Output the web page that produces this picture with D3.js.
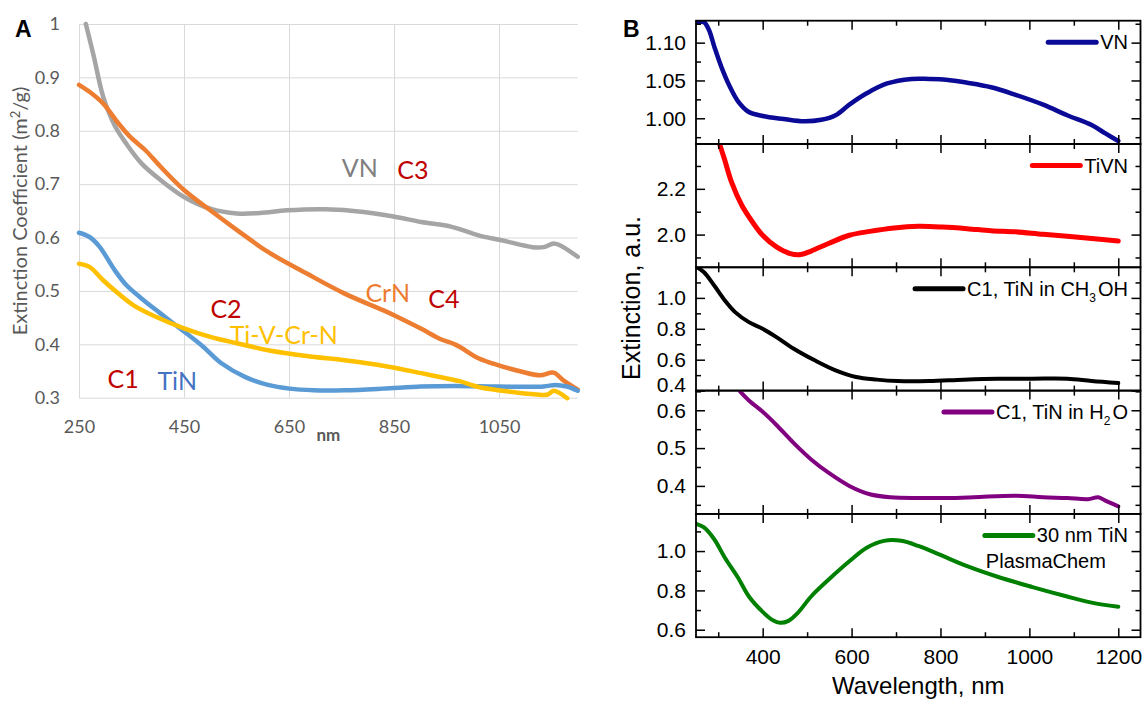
<!DOCTYPE html>
<html><head><meta charset="utf-8">
<script src="https://cdn.jsdelivr.net/npm/d3@7"></script>
<style>
html,body{margin:0;padding:0;background:#fff;}
svg{display:block;}
</style></head><body>
<svg id="fig" width="1143" height="701"></svg>
<script>
// ---------- Panel A: extinction coefficient (m^2/g) vs wavelength ----------
const aXTicks = [250, 450, 650, 850, 1050];
const aYTicks = [0.3, 0.4, 0.5, 0.6, 0.7, 0.8, 0.9, 1];

const aVN = [[263,1.0],[278,0.94],[296,0.864],[318,0.81],[340,0.776],[369,0.739],[405,0.708],[450,0.676],[500,0.654],[551,0.645],[595,0.646],[646,0.651],[719,0.653],[792,0.648],[851,0.639],[902,0.629],[960,0.62],[1011,0.604],[1055,0.595],[1114,0.582],[1135,0.582],[1154,0.589],[1165,0.586],[1200,0.564]];
const aCrN = [[250,0.886],[270,0.873],[296,0.851],[325,0.814],[347,0.789],[376,0.764],[405,0.733],[450,0.689],[500,0.651],[551,0.614],[610,0.573],[683,0.533],[756,0.495],[829,0.464],[851,0.454],[902,0.429],[938,0.41],[968,0.399],[1011,0.374],[1048,0.361],[1092,0.349],[1128,0.342],[1154,0.347],[1172,0.333],[1200,0.315]];
const aTiN = [[250,0.609],[270,0.601],[289,0.583],[318,0.539],[340,0.511],[369,0.486],[405,0.458],[450,0.424],[486,0.396],[522,0.364],[566,0.339],[610,0.324],[651,0.317],[697,0.314],[756,0.314],[829,0.317],[902,0.321],[968,0.322],[1048,0.321],[1135,0.321],[1157,0.324],[1179,0.321],[1200,0.313]];
const aTiVCrN = [[250,0.551],[270,0.545],[296,0.52],[325,0.495],[354,0.473],[391,0.454],[450,0.43],[500,0.414],[551,0.402],[610,0.389],[683,0.378],[756,0.37],[829,0.36],[902,0.346],[960,0.334],[975,0.331],[1011,0.32],[1048,0.314],[1121,0.306],[1143,0.306],[1154,0.313],[1180,0.299]];

// in-plot annotations of panel A: [text, wavelength, value, colour]
const aNotes = [
  ["VN", 785, 0.7325, "#7f7f7f"], ["C3", 886, 0.729, "#c00000"],
  ["CrN", 838, 0.498, "#ed7d31"], ["C4", 945, 0.486, "#c00000"],
  ["C2", 530, 0.468, "#c00000"], ["Ti-V-Cr-N", 640, 0.4196, "#ffc000"],
  ["C1", 334, 0.336, "#c00000"], ["TiN", 437, 0.333, "#4472c4"]
];

// ---------- Panel B: extinction spectra (a.u.) ----------
const bXMajor = [400, 600, 800, 1000, 1200];
const bXMinor = [300, 500, 700, 900, 1100];

const bVN = [[252,1.127],[268,1.127],[279,1.117],[291,1.095],[307,1.068],[326,1.042],[345,1.022],[367,1.009],[400,1.003],[447,0.999],[493,0.996],[532,0.998],[564,1.004],[595,1.018],[634,1.033],[680,1.046],[735,1.052],[774,1.052],[813,1.051],[860,1.047],[914,1.041],[969,1.031],[1031,1.018],[1085,1.004],[1140,0.991],[1171,0.98],[1200,0.97]];
const bTiVN = [[303,2.396],[314,2.33],[330,2.229],[353,2.128],[377,2.055],[400,1.997],[431,1.946],[462,1.917],[486,1.913],[509,1.928],[548,1.961],[595,1.997],[641,2.014],[696,2.029],[750,2.036],[805,2.033],[860,2.026],[914,2.017],[969,2.012],[1031,2.001],[1085,1.993],[1140,1.983],[1200,1.972]];
const bTiNMeOH = [[252,1.198],[268,1.166],[291,1.08],[315,0.983],[338,0.908],[369,0.843],[400,0.8],[431,0.746],[470,0.671],[517,0.596],[564,0.531],[610,0.488],[657,0.471],[704,0.462],[774,0.462],[852,0.471],[930,0.477],[1007,0.477],[1085,0.477],[1140,0.462],[1200,0.449]];
const bTiNWater = [[349,0.65],[369,0.626],[400,0.596],[431,0.561],[470,0.513],[509,0.47],[548,0.435],[595,0.4],[641,0.378],[688,0.37],[750,0.368],[813,0.368],[875,0.37],[969,0.374],[1031,0.37],[1085,0.368],[1132,0.365],[1155,0.37],[1171,0.361],[1200,0.346]];
const bTiNPlasma = [[252,1.137],[268,1.12],[291,1.06],[315,0.966],[345,0.863],[369,0.769],[400,0.691],[423,0.648],[439,0.635],[458,0.645],[478,0.683],[509,0.769],[548,0.854],[595,0.948],[634,1.017],[673,1.052],[712,1.052],[750,1.026],[797,0.983],[860,0.923],[930,0.868],[1007,0.817],[1085,0.769],[1140,0.738],[1200,0.717]];

const bVNTicks = [1.00, 1.05, 1.10],  bVNMinor = [0.975, 1.025, 1.075, 1.125];
const bTiVNTicks = [2.0, 2.2],        bTiVNMinor = [1.9, 2.1, 2.3];
const bMeOHTicks = [0.4, 0.6, 0.8, 1.0], bMeOHMinor = [0.5, 0.7, 0.9, 1.1];
const bWaterTicks = [0.4, 0.5, 0.6],  bWaterMinor = [0.35, 0.45, 0.55, 0.65];
const bPlasmaTicks = [0.6, 0.8, 1.0], bPlasmaMinor = [0.7, 0.9, 1.1];

const svg = d3.select("#fig");
const fontA = "Lato, 'Open Sans', sans-serif";
const fontB = "'Liberation Sans', Arial, sans-serif";

// ================= Panel A =================
const xA = d3.scaleLinear([250, 1200], [79, 577.75]);
const yA = d3.scaleLinear([0.3, 1], [397.7, 24]);
const gA = svg.append("g");

const yAxA = gA.append("g").attr("transform", `translate(${xA(250)},0)`)
  .call(d3.axisLeft(yA).tickValues(aYTicks).tickSize(-(xA(1200) - xA(250)))
        .tickPadding(19).tickFormat(d3.format("")));
const xAxA = gA.append("g").attr("transform", `translate(0,${yA(0.3)})`)
  .call(d3.axisBottom(xA).tickValues(aXTicks).tickSize(-(yA(0.3) - yA(1)))
        .tickPadding(23).tickFormat(d3.format("")));
[yAxA, xAxA].forEach(ax => {
  ax.select(".domain").remove();
  ax.selectAll(".tick line").attr("stroke", "#d9d9d9").attr("stroke-width", 1);
  ax.selectAll(".tick text").attr("fill", "#595959")
    .style("font-family", fontA).style("font-size", "18px");
});

const lineA = d3.line().x(d => xA(d[0])).y(d => yA(d[1])).curve(d3.curveCatmullRom.alpha(0.5));
[[aVN, "#a5a5a5"], [aCrN, "#ed7d31"], [aTiN, "#5b9bd5"], [aTiVCrN, "#ffc000"]].forEach(([d, c]) => {
  gA.append("path").datum(d).attr("d", lineA).attr("fill", "none")
    .attr("stroke", c).attr("stroke-width", 4.5).attr("stroke-linecap", "round").attr("stroke-linejoin", "round");
});

gA.selectAll("text.note").data(aNotes).join("text").attr("class", "note")
  .attr("x", d => xA(d[1])).attr("y", d => yA(d[2]))
  .attr("text-anchor", "middle").attr("dominant-baseline", "central")
  .attr("fill", d => d[3]).style("font-family", fontA).style("font-size", "25px")
  .text(d => d[0]);

const titleA = gA.append("text").attr("transform", `translate(26.5,211) rotate(-90)`)
  .attr("text-anchor", "middle").attr("fill", "#595959")
  .style("font-family", fontA).style("font-size", "20px");
titleA.append("tspan").text("Extinction Coefficient (m");
titleA.append("tspan").attr("dy", -7).style("font-size", "13px").text("2");
titleA.append("tspan").attr("dy", 7).text("/g)");

gA.append("text").attr("x", xA(725)).attr("y", 441).attr("text-anchor", "middle")
  .attr("fill", "#595959").style("font-family", fontA).style("font-size", "17px")
  .style("font-weight", "bold").text("nm");

svg.append("text").attr("x", 15).attr("y", 36.7).style("font-family", fontB)
  .style("font-size", "23px").style("font-weight", "bold").text("A");

// ================= Panel B =================
const xB = d3.scaleLinear([250, 1250], [696, 1140.5]);
const L = xB(250), R = xB(1250);
const top0 = 20.7, ph = 123.3;

const panels = [
  { data: bVN, color: "#0a0a96", width: 4.5, dom: [0.966, 1.129], major: bVNTicks, minor: bVNMinor, fmt: ".2f", legend: ["VN"] },
  { data: bTiVN, color: "#ff0000", width: 5, dom: [1.857, 2.396], major: bTiVNTicks, minor: bTiVNMinor, fmt: ".1f", legend: ["TiVN"] },
  { data: bTiNMeOH, color: "#000000", width: 4, dom: [0.4, 1.198], major: bMeOHTicks, minor: bMeOHMinor, fmt: ".1f", legend: ["C1, TiN in CH", "3", "OH"] },
  { data: bTiNWater, color: "#800080", width: 4, dom: [0.326, 0.652], major: bWaterTicks, minor: bWaterMinor, fmt: ".1f", legend: ["C1, TiN in H", "2", "O"] },
  { data: bTiNPlasma, color: "#008000", width: 4, dom: [0.562, 1.189], major: bPlasmaTicks, minor: bPlasmaMinor, fmt: ".1f", legend: ["30 nm TiN"], extra: "PlasmaChem" }
];

const defs = svg.append("defs");
panels.forEach((p, i) => {
  const t = top0 + i * ph, b = t + ph;
  const y = d3.scaleLinear(p.dom, [b, t]);
  const g = svg.append("g");

  defs.append("clipPath").attr("id", "clipB" + i)
    .append("rect").attr("x", L).attr("y", t).attr("width", R - L).attr("height", ph);

  const line = d3.line().x(d => xB(d[0])).y(d => y(d[1])).curve(d3.curveCatmullRom.alpha(0.5));
  g.append("path").datum(p.data).attr("d", line).attr("fill", "none")
    .attr("clip-path", `url(#clipB${i})`)
    .attr("stroke", p.color).attr("stroke-width", p.width).attr("stroke-linecap", "round").attr("stroke-linejoin", "round");

  const minorIn = p.minor.filter(v => v > p.dom[0] && v < p.dom[1]);
  const axes = [];
  const left = g.append("g").attr("transform", `translate(${L},0)`)
    .call(d3.axisLeft(y).tickValues(p.major).tickSizeInner(-9).tickSizeOuter(0).tickPadding(10).tickFormat(d3.format(p.fmt)));
  axes.push(left);
  axes.push(g.append("g").attr("transform", `translate(${L},0)`)
    .call(d3.axisLeft(y).tickValues(minorIn).tickSize(-5).tickFormat("")));
  axes.push(g.append("g").attr("transform", `translate(${R},0)`)
    .call(d3.axisRight(y).tickValues(p.major).tickSize(-9).tickFormat("")));
  axes.push(g.append("g").attr("transform", `translate(${R},0)`)
    .call(d3.axisRight(y).tickValues(minorIn).tickSize(-5).tickFormat("")));
  axes.push(g.append("g").attr("transform", `translate(0,${t})`)
    .call(d3.axisTop(xB).tickValues(bXMajor).tickSize(-9).tickFormat("")));
  axes.push(g.append("g").attr("transform", `translate(0,${t})`)
    .call(d3.axisTop(xB).tickValues(bXMinor).tickSize(-5).tickFormat("")));
  const last = i === panels.length - 1;
  axes.push(g.append("g").attr("transform", `translate(0,${b})`)
    .call(d3.axisBottom(xB).tickValues(bXMajor).tickSizeInner(-9).tickSizeOuter(0).tickPadding(12)
          .tickFormat(last ? d3.format("d") : "")));
  axes.push(g.append("g").attr("transform", `translate(0,${b})`)
    .call(d3.axisBottom(xB).tickValues(bXMinor).tickSize(-5).tickFormat("")));
  axes.forEach(ax => {
    ax.select(".domain").remove();
    ax.selectAll(".tick line").attr("stroke", "#000").attr("stroke-width", 1.5);
    ax.selectAll(".tick text").attr("fill", "#000").style("font-family", fontB).style("font-size", "21px");
  });
  // a label sitting on the panel's bottom edge is lifted slightly off the next panel's top label
  left.selectAll(".tick text").filter(v => Math.abs(y(v) - b) < 1).attr("dy", "0.02em");

  g.append("rect").attr("x", L).attr("y", t).attr("width", R - L).attr("height", ph)
    .attr("fill", "none").attr("stroke", "#000").attr("stroke-width", 1.8);

  // legend: sample line + label, right-aligned inside the panel
  const ly = t + 21.5;
  const txt = g.append("text").attr("x", 1128).attr("y", ly + 7).attr("text-anchor", "end")
    .style("font-family", fontB).style("font-size", "20px").attr("fill", "#000");
  txt.append("tspan").text(p.legend[0]);
  if (p.legend.length > 1) {
    txt.append("tspan").attr("dy", 6).style("font-size", "12px").text(p.legend[1]);
    txt.append("tspan").attr("dy", -6).attr("dx", 2).text(p.legend[2]);
  }
  const tw = txt.node().getComputedTextLength() + (p.legend.length > 1 ? 2 : 0);
  const x0 = 1128 - tw;
  g.append("line").attr("x1", x0 - 52).attr("x2", x0 - 4).attr("y1", ly).attr("y2", ly)
    .attr("stroke", p.color).attr("stroke-width", 5).attr("stroke-linecap", "round");
  if (p.extra) {
    g.append("text").attr("x", x0 - 51).attr("y", ly + 33).style("font-family", fontB)
      .style("font-size", "20px").attr("fill", "#000").text(p.extra);
  }
});

svg.append("text").attr("transform", `translate(640,298) rotate(-90)`).attr("text-anchor", "middle")
  .style("font-family", fontB).style("font-size", "25px").text("Extinction, a.u.");
svg.append("text").attr("x", (L + R) / 2).attr("y", 694).attr("text-anchor", "middle")
  .style("font-family", fontB).style("font-size", "24px").text("Wavelength, nm");

svg.append("text").attr("x", 623).attr("y", 37).style("font-family", fontB)
  .style("font-size", "23px").style("font-weight", "bold").text("B");
</script>
</body></html>
